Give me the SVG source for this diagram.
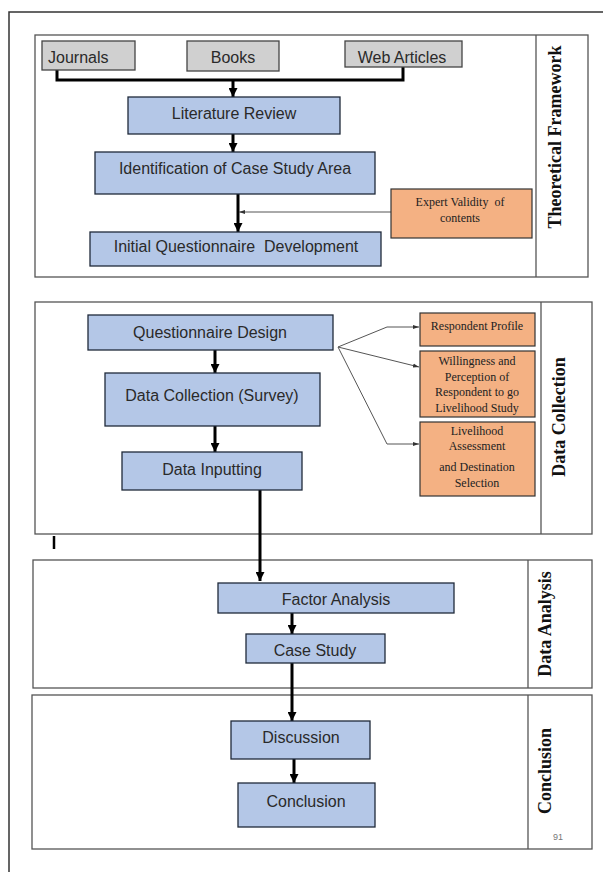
<svg xmlns="http://www.w3.org/2000/svg" width="603" height="872" viewBox="0 0 603 872">
<style>
.page{fill:none;stroke:#333;stroke-width:1.5}
.sec{fill:#fff;stroke:#555;stroke-width:1.3}
.div{stroke:#555;stroke-width:1.3}
.blue{fill:#b4c7e7;stroke:#1f2a3a;stroke-width:1.3}
.gray{fill:#d0d0d0;stroke:#444;stroke-width:1.3}
.orng{fill:#f4b183;stroke:#333;stroke-width:1.2}
.t{font-family:"Liberation Sans",Arial,sans-serif;font-size:16px;fill:#2a2a2a}
.c{text-anchor:middle}
.s{font-family:"Liberation Serif","Times New Roman",serif;font-size:12px;fill:#222;text-anchor:middle}
.v{font-family:"Liberation Serif","Times New Roman",serif;font-size:18px;font-weight:bold;fill:#111;text-anchor:middle}
.thk{fill:none;stroke:#000;stroke-width:3}
.thn{fill:none;stroke:#555;stroke-width:1}
</style>
<defs>
<marker id="ah" viewBox="0 0 10 10" refX="10" refY="5" markerWidth="3" markerHeight="3" orient="auto" markerUnits="strokeWidth">
<path d="M0,0 L10,5 L0,10 z" fill="#000"/>
</marker>
<marker id="as" viewBox="0 0 10 10" refX="10" refY="5" markerWidth="6" markerHeight="6" orient="auto" markerUnits="strokeWidth">
<path d="M0,1.5 L10,5 L0,8.5 z" fill="#333"/>
</marker>
</defs>
<rect width="603" height="872" fill="#fff"/>
<path class="page" d="M9,872 V12 H603"/>

<g id="sec-theoretical">
<rect class="sec" x="35" y="35" width="553" height="242"/>
<line class="div" x1="536" y1="35" x2="536" y2="277"/>
<text class="v" transform="translate(561,137) rotate(-90)">Theoretical Framework</text>
</g>
<g id="sec-collection">
<rect class="sec" x="35" y="302" width="557" height="232"/>
<line class="div" x1="541" y1="302" x2="541" y2="534"/>
<text class="v" transform="translate(565,417) rotate(-90)">Data Collection</text>
</g>
<g id="sec-analysis">
<rect class="sec" x="33" y="560" width="559" height="128"/>
<line class="div" x1="528" y1="560" x2="528" y2="688"/>
<text class="v" transform="translate(551,624) rotate(-90)">Data Analysis</text>
</g>
<g id="sec-conclusion">
<rect class="sec" x="32" y="695" width="560" height="154"/>
<line class="div" x1="528" y1="695" x2="528" y2="849"/>
<text class="v" transform="translate(551,771) rotate(-90)">Conclusion</text>
<text x="558" y="840" text-anchor="middle" font-family="Liberation Sans,Arial,sans-serif" font-size="9" fill="#777">91</text>
</g>

<g id="connectors">
<path class="thk" d="M57,70 V80 H403 V67"/>
<line class="thk" x1="233" y1="80" x2="233" y2="97" marker-end="url(#ah)"/>
<line class="thk" x1="233" y1="134" x2="233" y2="152" marker-end="url(#ah)"/>
<line class="thk" x1="238" y1="194" x2="238" y2="232" stroke-width="3.5" marker-end="url(#ah)"/>
<line class="thn" x1="391" y1="212" x2="239" y2="212" stroke="#666" marker-end="url(#as)"/>
<line class="thk" x1="215" y1="350" x2="215" y2="373" marker-end="url(#ah)"/>
<line class="thk" x1="215" y1="426" x2="215" y2="452" marker-end="url(#ah)"/>
<line class="thk" x1="260" y1="490" x2="260" y2="581" marker-end="url(#ah)"/>
<line class="thk" x1="292" y1="613" x2="292" y2="634" marker-end="url(#ah)"/>
<line class="thk" x1="292" y1="663" x2="292" y2="721" marker-end="url(#ah)"/>
<line class="thk" x1="294" y1="759" x2="294" y2="783" marker-end="url(#ah)"/>
<path class="thn" d="M338,347 L387,327 H419" marker-end="url(#as)"/>
<path class="thn" d="M338,347 L419,367" marker-end="url(#as)"/>
<path class="thn" d="M338,347 L387,444 H419" marker-end="url(#as)"/>
<line x1="54" y1="536" x2="54" y2="549" stroke="#000" stroke-width="2.5"/>
</g>

<g id="journals"><rect class="gray" x="42" y="41" width="93" height="29"/><text class="t" x="48" y="63">Journals</text></g>
<g id="books"><rect class="gray" x="187" y="41" width="92" height="30"/><text class="t c" x="233" y="63">Books</text></g>
<g id="web-articles"><rect class="gray" x="345" y="41" width="117" height="26"/><text class="t c" x="402" y="63">Web Articles</text></g>
<g id="literature-review"><rect class="blue" x="128" y="97" width="212" height="37"/><text class="t c" x="234" y="119">Literature Review</text></g>
<g id="identification"><rect class="blue" x="95" y="152" width="280" height="42"/><text class="t c" x="235" y="174">Identification of Case Study Area</text></g>
<g id="initial-questionnaire"><rect class="blue" x="90" y="232" width="291" height="34"/><text class="t c" x="236" y="252" xml:space="preserve">Initial Questionnaire  Development</text></g>
<g id="expert-validity"><rect class="orng" x="391" y="189" width="141" height="49"/><text class="s" x="460" y="206" xml:space="preserve">Expert Validity  of</text><text class="s" x="460" y="222">contents</text></g>

<g id="questionnaire-design"><rect class="blue" x="88" y="315" width="245" height="35"/><text class="t c" x="210" y="338">Questionnaire Design</text></g>
<g id="data-collection"><rect class="blue" x="105" y="373" width="215" height="53"/><text class="t c" x="212" y="401">Data Collection (Survey)</text></g>
<g id="data-inputting"><rect class="blue" x="122" y="452" width="180" height="38"/><text class="t c" x="212" y="475">Data Inputting</text></g>
<g id="respondent-profile"><rect class="orng" x="420" y="313" width="115" height="33"/><text class="s" x="477" y="330">Respondent Profile</text></g>
<g id="willingness"><rect class="orng" x="420" y="351" width="115" height="66"/>
<text class="s" x="477" y="365">Willingness and</text><text class="s" x="477" y="381">Perception of</text><text class="s" x="477" y="396">Respondent to go</text><text class="s" x="477" y="412">Livelihood Study</text></g>
<g id="livelihood"><rect class="orng" x="420" y="422" width="115" height="74"/>
<text class="s" x="477" y="435">Livelihood</text><text class="s" x="477" y="450">Assessment</text><text class="s" x="477" y="471">and Destination</text><text class="s" x="477" y="487">Selection</text></g>

<g id="factor-analysis"><rect class="blue" x="218" y="583" width="236" height="30"/><text class="t c" x="336" y="605">Factor Analysis</text></g>
<g id="case-study"><rect class="blue" x="246" y="634" width="139" height="29"/><text class="t c" x="315" y="656">Case Study</text></g>
<g id="discussion"><rect class="blue" x="231" y="721" width="139" height="38"/><text class="t c" x="301" y="743">Discussion</text></g>
<g id="conclusion"><rect class="blue" x="238" y="783" width="137" height="44"/><text class="t c" x="306" y="807">Conclusion</text></g>
</svg>
